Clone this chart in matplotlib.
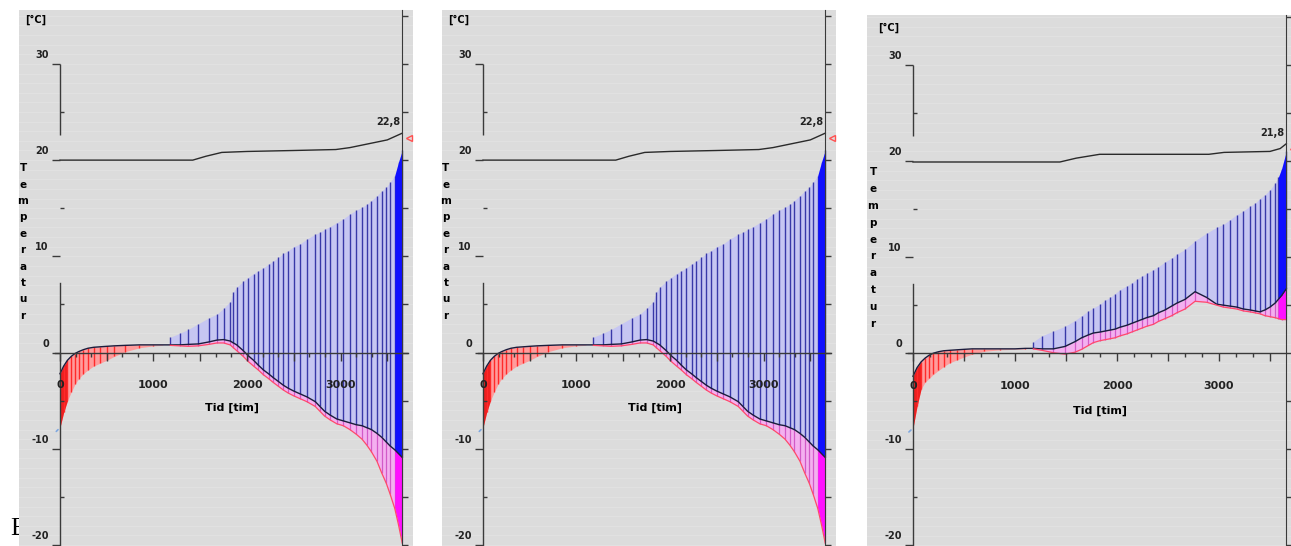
import numpy as np
import matplotlib.pyplot as plt

plt.rcParams['font.family'] = 'DejaVu Sans'

W, H = 1291, 546

# ---------------- data: panels 1 and 2 (same run) ----------------
# start-up period (red, heating from below)
a_s_t = [0, 40, 80, 120, 160, 200, 250, 300, 360, 430, 500, 580, 700, 850, 1000, 1100]
a_s_mid = [-2.2, -1.4, -0.8, -0.4, -0.1, 0.1, 0.3, 0.45, 0.55, 0.6, 0.65, 0.7, 0.75, 0.8, 0.8, 0.8]
a_s_low = [-7.8, -6.2, -5.0, -4.1, -3.3, -2.7, -2.2, -1.8, -1.4, -1.1, -0.8, -0.4, 0.1, 0.5, 0.7, 0.75]
# stems (blue above middle curve, pink below)
a_t = [1180, 1280, 1370, 1480, 1590, 1680, 1750, 1820, 1855, 1890, 1960, 2010, 2070, 2120,
       2175, 2230, 2280, 2335, 2390, 2440, 2500, 2570, 2640, 2730, 2780, 2830, 2890, 2960,
       3030, 3100, 3170, 3230, 3280, 3330, 3390, 3440, 3490, 3530, 3580, 3620, 3660]
a_up = [1.6, 2.0, 2.4, 3.0, 3.6, 4.0, 4.6, 5.3, 6.3, 6.8, 7.4, 7.8, 8.2, 8.5,
        8.8, 9.2, 9.5, 9.9, 10.3, 10.6, 11.0, 11.3, 11.8, 12.3, 12.5, 12.8, 13.1, 13.5,
        13.9, 14.4, 14.8, 15.1, 15.4, 15.8, 16.3, 16.8, 17.2, 17.7, 18.4, 19.8, 21.0]
a_mid = [0.8, 0.8, 0.85, 0.9, 1.1, 1.3, 1.35, 1.2, 1.0, 0.8, 0.2, -0.3, -0.8, -1.3,
         -1.8, -2.2, -2.6, -3.0, -3.4, -3.7, -4.0, -4.3, -4.6, -5.1, -5.6, -6.1, -6.5, -6.9,
         -7.1, -7.3, -7.5, -7.6, -7.8, -8.0, -8.4, -8.8, -9.3, -9.7, -10.1, -10.5, -10.9]
a_low = [0.75, 0.7, 0.65, 0.7, 0.85, 1.0, 1.0, 0.8, 0.5, 0.2, -0.4, -0.9, -1.4, -1.8,
         -2.3, -2.7, -3.1, -3.5, -3.9, -4.2, -4.5, -4.8, -5.1, -5.6, -6.1, -6.6, -7.0, -7.4,
         -7.6, -8.0, -8.5, -9.0, -9.6, -10.3, -11.3, -12.5, -13.6, -14.7, -16.2, -17.9, -19.8]
# indoor temperature
a_in_t = [0, 1420, 1560, 1730, 2000, 2500, 2950, 3100, 3300, 3500, 3660]
a_in = [20.0, 20.0, 20.4, 20.8, 20.9, 21.0, 21.1, 21.3, 21.7, 22.1, 22.8]

# ---------------- data: panel 3 ----------------
b_s_t = [0, 40, 80, 120, 160, 200, 250, 300, 360, 430, 500, 580, 700, 850, 1000, 1100]
b_s_mid = [-2.4, -1.5, -0.9, -0.5, -0.2, 0.0, 0.15, 0.25, 0.3, 0.35, 0.4, 0.45, 0.45, 0.45, 0.45, 0.5]
b_s_low = [-7.8, -5.5, -3.7, -3.0, -2.6, -2.2, -1.8, -1.4, -1.0, -0.7, -0.4, -0.1, 0.2, 0.35, 0.4, 0.45]
b_t = [1180, 1262, 1376, 1490, 1588, 1653, 1719, 1768, 1833, 1882, 1931, 1980, 2029, 2095,
       2144, 2193, 2242, 2291, 2356, 2405, 2471, 2536, 2585, 2667, 2765, 2879, 2977, 3042,
       3108, 3173, 3238, 3304, 3353, 3402, 3451, 3500, 3549, 3582, 3614, 3660]
b_up = [1.2, 1.8, 2.3, 2.8, 3.4, 3.9, 4.4, 4.7, 5.1, 5.5, 5.8, 6.2, 6.6, 7.0,
        7.3, 7.7, 8.0, 8.3, 8.7, 9.0, 9.5, 9.9, 10.3, 10.8, 11.7, 12.5, 13.1, 13.4,
        13.9, 14.4, 14.8, 15.3, 15.6, 16.1, 16.5, 17.0, 17.7, 18.3, 19.2, 21.0]
b_mid = [0.5, 0.45, 0.45, 0.7, 1.2, 1.6, 1.9, 2.1, 2.2, 2.3, 2.4, 2.5, 2.7, 2.9,
         3.1, 3.3, 3.5, 3.7, 3.9, 4.2, 4.5, 4.9, 5.2, 5.6, 6.4, 5.8, 5.1, 5.0,
         4.9, 4.8, 4.6, 4.5, 4.4, 4.3, 4.5, 4.8, 5.2, 5.6, 6.0, 6.7]
b_low = [0.45, 0.3, 0.05, -0.1, 0.1, 0.4, 0.8, 1.1, 1.3, 1.4, 1.5, 1.6, 1.8, 2.0,
         2.2, 2.4, 2.6, 2.8, 3.0, 3.3, 3.6, 3.9, 4.2, 4.6, 5.4, 5.3, 5.0, 4.8,
         4.7, 4.6, 4.4, 4.3, 4.2, 4.1, 3.9, 3.8, 3.7, 3.6, 3.5, 3.5]
b_in_t = [0, 1440, 1600, 1830, 2900, 3050, 3500, 3600, 3660]
b_in = [19.9, 19.9, 20.3, 20.7, 20.7, 20.9, 21.0, 21.3, 21.8]

# axis labelling
y_ticks = [-20, -10, 0, 10, 20, 30]
x_ticks = [0, 1000, 2000, 3000]
x_tick_labels = ['0', '1000', '2000', '3000']
t_end = 3660

BG = '#dcdcdc'
AX = '#3a3a3a'

fig = plt.figure(figsize=(W / 100, H / 100), dpi=100)
fig.patch.set_facecolor('white')


def px_rect(x0, y0, x1, y1):
    return [x0 / W, 1 - y1 / H, (x1 - x0) / W, (y1 - y0) / H]


def ftext(x, y, s, **kw):
    fig.text(x / W, 1 - y / H, s, **kw)


def draw_panel(rect, xlim, ylim, s_t, s_mid, s_low, t, up, mid, low, in_t, in_T, axis_right):
    ax = fig.add_axes(rect)
    ax.set_facecolor(BG)
    ax.set_xlim(xlim)
    ax.set_ylim(ylim)
    ax.set_axisbelow(False)

    # faint horizontal banding of the screen background
    for v in np.arange(np.ceil(ylim[0]), ylim[1], 1.0):
        ax.axhline(v, color='#e1e1e1', lw=1.0, zorder=0.3)

    s_t, s_mid, s_low = map(np.asarray, (s_t, s_mid, s_low))
    t, up, mid, low = map(np.asarray, (t, up, mid, low))

    # start-up (red)
    ax.fill_between(s_t, s_low, s_mid, color='#ff9c9c', lw=0, zorder=1)
    ax.fill_between(s_t, s_low, s_mid, where=s_t <= 80, color='#ee2020', lw=0, zorder=1.1)
    ax.vlines(s_t[1:], s_low[1:], s_mid[1:], color='#ff2a2a', lw=1.0, zorder=1.2)

    # blue and pink bands with stems
    end = t >= 3580
    ax.fill_between(t, mid, up, color='#c6c6f2', lw=0, zorder=1)
    ax.fill_between(t, low, mid, color='#f4b0f0', lw=0, zorder=1)
    ax.fill_between(t, mid, up, where=end, color='#1010ff', lw=0, zorder=1.3)
    ax.fill_between(t, low, mid, where=end, color='#ff10ff', lw=0, zorder=1.3)
    ax.vlines(t, mid, up, color='#3838a8', lw=1.0, zorder=1.2)
    ax.vlines(t, low, mid, color='#d25ac8', lw=0.9, zorder=1.2)

    ax.plot(np.r_[s_t, t], np.r_[s_mid, mid], color='#1c1c3c', lw=1.0, zorder=2)
    ax.plot(t, low, color='#ff4a6a', lw=0.9, zorder=2)
    ax.plot(in_t, in_T, color='#2a2a2a', lw=1.0, zorder=2)

    # small markers at the ends
    ax.annotate('', xy=(0, s_low[0]), xytext=(-60, s_low[0] - 0.6),
                arrowprops=dict(arrowstyle='-', color='#7fa8e0', lw=1.2))
    ax.plot(t_end + 70, in_T[-1] - 0.5, marker='<', ms=5, mfc='none', mec='#ff5050',
            mew=1, zorder=3, clip_on=False)
    ax.annotate(f'{in_T[-1]:.1f}'.replace('.', ','), (t_end, in_T[-1]),
                xytext=(-1.5, 8), textcoords='offset points', ha='right', va='center',
                fontsize=7, fontweight='bold', color='#222222')

    # axes
    ax.spines['top'].set_visible(False)
    ax.spines['right'].set_visible(False)
    ax.spines['bottom'].set_position(('data', 0))
    ax.spines['bottom'].set_bounds(-50, axis_right)
    ax.spines['left'].set_position(('data', 0))
    ax.spines['left'].set_bounds(ylim[0], 7.2)
    for s in ('bottom', 'left'):
        ax.spines[s].set_color(AX)
        ax.spines[s].set_linewidth(1.0)
    ax.vlines(0, 22.6, 30, color=AX, lw=1.0, zorder=2.5)

    major = np.arange(0, t_end, 500)
    ax.set_xticks(major, labels=[x_tick_labels[x_ticks.index(v)] if v in x_ticks else ''
                                 for v in major],
                  fontsize=8, fontweight='bold', color='#222222')
    ax.set_xticks(np.arange(0, t_end, 500 / 3), minor=True)
    ax.tick_params(axis='x', which='major', direction='out', length=6, width=1,
                   pad=14, color=AX)
    ax.tick_params(axis='x', which='minor', direction='out', length=3, width=1, color=AX)

    ax.set_yticks(y_ticks, labels=[''] * len(y_ticks))
    ax.set_yticks(np.arange(-15, 30, 10), minor=True)
    ax.tick_params(axis='y', which='major', direction='out', length=6, width=1, color=AX)
    ax.tick_params(axis='y', which='minor', direction='in', length=3, width=1, color=AX)
    for v in y_ticks:
        ax.annotate(str(v), (0, v), xytext=(-8, 6.5), textcoords='offset points',
                    ha='right', va='center', fontsize=7, fontweight='bold', color='#222222')

    # right-hand axis
    ax2 = ax.twinx()
    ax2.set_ylim(ylim)
    for s in ('left', 'top', 'bottom'):
        ax2.spines[s].set_visible(False)
    ax2.spines['right'].set_position(('data', t_end))
    ax2.spines['right'].set_color(AX)
    ax2.set_yticks(np.arange(-20, 36, 5), labels=[])
    ax2.tick_params(axis='y', direction='out', length=4, width=1, color=AX)
    return ax


# "E" fragment behind the first panel
fig.text(10 / W, 1 - 535 / H, 'E', family='Liberation Serif', fontsize=18,
         va='baseline', zorder=-1)

panels = [
    (19, 10, 413, 546, (-438, 3775), (-20.1, 35.6), a_s_t, a_s_mid, a_s_low,
     a_t, a_up, a_mid, a_low, a_in_t, a_in, 3720, 0),
    (442, 10, 836, 546, (-438, 3775), (-20.1, 35.6), a_s_t, a_s_mid, a_s_low,
     a_t, a_up, a_mid, a_low, a_in_t, a_in, 3720, 423),
]
for (x0, y0, x1, y1, xl, yl, st, sm, sl, t, u, m, lo, it, iT, ar, dx) in panels:
    draw_panel(px_rect(x0, y0, x1, y1), xl, yl, st, sm, sl, t, u, m, lo, it, iT, ar)
    ftext(36 + dx, 20, '[°C]', ha='center', va='center', fontsize=7, fontweight='bold')
    ftext(23 + dx, 242, '\n'.join('Temperatur'), ha='center', va='center',
          fontsize=7.5, fontweight='bold', linespacing=1.8)
    ftext(232 + dx, 408, 'Tid [tim]', ha='center', va='center', fontsize=8,
          fontweight='bold')

draw_panel(px_rect(867, 15, 1291, 546), (-451, 3706), (-20.07, 35.2), b_s_t, b_s_mid,
           b_s_low, b_t, b_up, b_mid, b_low, b_in_t, b_in, t_end)
ftext(889, 28, '[°C]', ha='center', va='center', fontsize=7, fontweight='bold')
ftext(873, 248, '\n'.join('Temperatur'), ha='center', va='center',
      fontsize=7.5, fontweight='bold', linespacing=1.86)
ftext(1100, 411, 'Tid [tim]', ha='center', va='center', fontsize=8, fontweight='bold')

fig.savefig('out.png', dpi=100)
